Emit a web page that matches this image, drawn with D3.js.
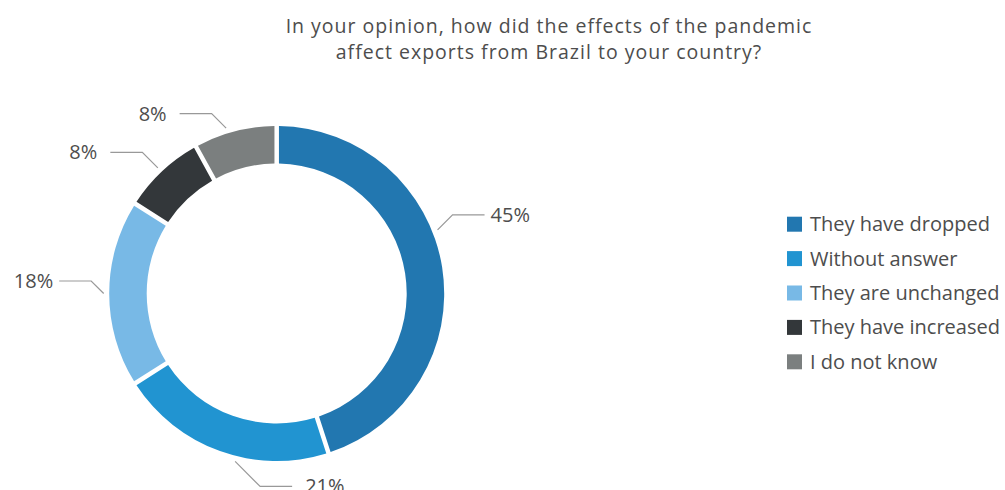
<!DOCTYPE html>
<html>
<head>
<meta charset="utf-8">
<script src="https://cdn.jsdelivr.net/npm/d3@7"></script>
<style>
  html, body { margin: 0; padding: 0; background: #fff; }
  svg { display: block; font-family: "Open Sans", "DejaVu Sans", sans-serif; }
</style>
</head>
<body>
<svg id="chart" width="1005" height="490"></svg>
<script>
// ---- data ----
const titleLines = ["In your opinion, how did the effects of the pandemic", "affect exports from Brazil to your country?"];
const categories = ["They have dropped", "Without answer", "They are unchanged", "They have increased", "I do not know"];
const values = [45, 21, 18, 8, 8];
const colors = ["#2277b0", "#2194d1", "#78b9e6", "#33373a", "#7b7f7f"];

// ---- layout (label connector tweaks, degrees / px) ----
const labelNudge = [-12.6, -5.9, 0, -0.2, -2.6];
const labelDiag = [15, 25, 12.5, 15.5, 14.5];
const labelGap = [6, 13, 6, 13, 13];
const labelSide = [1, 1, -1, -1, -1];

const W = 1005, H = 490;
const cx = 276.7, cy = 293.5, R = 167.5, r = 130;
const svg = d3.select("#chart");

// title
svg.append("g").selectAll("text").data(titleLines).join("text")
  .attr("x", 549).attr("y", (d, i) => 33 + i * 26)
  .attr("text-anchor", "middle")
  .attr("font-size", 19.5).attr("letter-spacing", 1).attr("fill", "#4d4d4d")
  .text(d => d);

const pie = d3.pie().sort(null).value(d => d.v);
const arcs = pie(values.map((v, i) => ({ v, i })));
const arc = d3.arc().innerRadius(r).outerRadius(R).padAngle(0.03).padRadius(150);

const g = svg.append("g").attr("transform", `translate(${cx},${cy})`);
g.selectAll("path").data(arcs).join("path")
  .attr("d", arc)
  .attr("fill", d => colors[d.data.i]);

// labels with connectors
const total = d3.sum(values);
const lg = g.append("g");
arcs.forEach(a => {
  const i = a.data.i;
  const ang = (a.startAngle + a.endAngle) / 2 + labelNudge[i] * Math.PI / 180;
  const sx = Math.sin(ang) * (R + 5.5), sy = -Math.cos(ang) * (R + 5.5);
  const side = labelSide[i];
  const vdir = Math.cos(ang) > -0.1 ? -1 : 1;
  const ex = sx + side * labelDiag[i], ey = sy + vdir * labelDiag[i];
  const hx = ex + side * 32;
  lg.append("path")
    .attr("d", `M${sx},${sy}L${ex},${ey}L${hx},${ey}`)
    .attr("fill", "none").attr("stroke", "#999").attr("stroke-width", 1.2);
  lg.append("text")
    .attr("x", hx + side * labelGap[i]).attr("y", ey)
    .attr("dy", "0.35em")
    .attr("text-anchor", side > 0 ? "start" : "end")
    .attr("font-size", 20).attr("fill", "#4d4d4d")
    .text(Math.round(values[i] / total * 100) + "%");
});

// legend
const legY = d3.scaleBand().domain(categories).range([207, 379]);
const leg = svg.append("g").selectAll("g").data(categories).join("g")
  .attr("transform", d => `translate(787,${legY(d) + legY.bandwidth() / 2})`);
leg.append("rect").attr("x", 0).attr("y", -7.5).attr("width", 15).attr("height", 15)
  .attr("fill", (d, i) => colors[i]);
leg.append("text").attr("x", 23).attr("y", 0).attr("dy", "0.35em")
  .attr("font-size", 20).attr("fill", "#4d4d4d")
  .text(d => d);
</script>
</body>
</html>
